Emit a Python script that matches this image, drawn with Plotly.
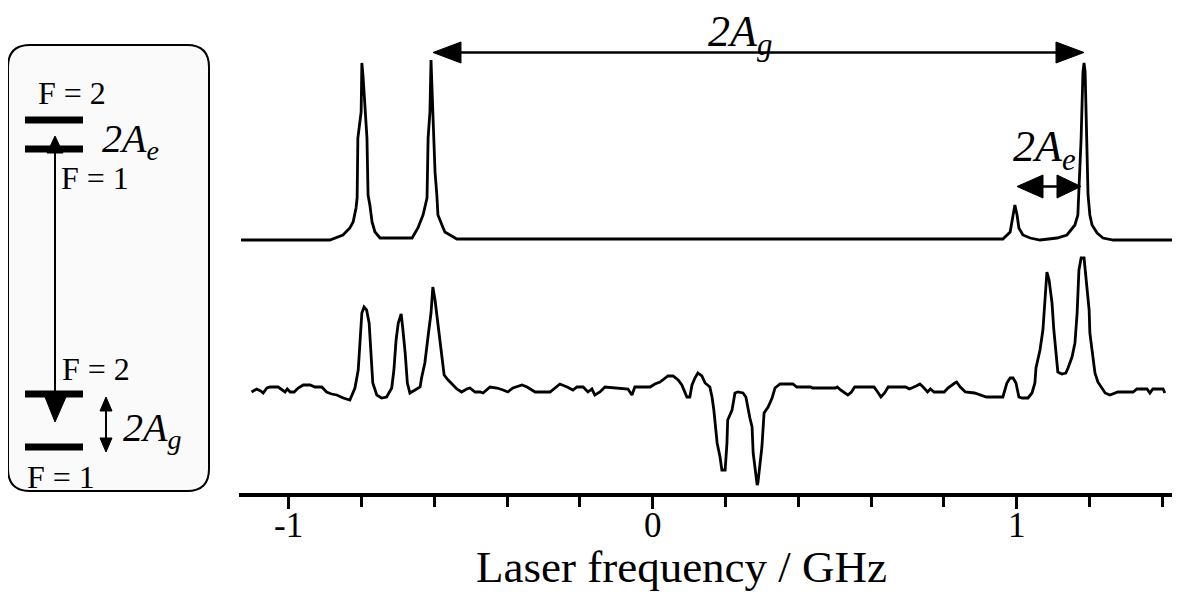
import plotly.graph_objects as go

# ---------------- data ----------------
# Upper trace: laser-induced fluorescence (a.u., relative to its baseline)
top_freq = [-1.131, -0.887, -0.851, -0.832, -0.823, -0.815, -0.812, -0.810, -0.801, -0.799,
            -0.796, -0.790, -0.785, -0.782, -0.777, -0.771, -0.763, -0.749, -0.661, -0.645,
            -0.631, -0.620, -0.617, -0.612, -0.609, -0.604, -0.598, -0.593, -0.590, -0.579,
            -0.571, -0.538, 0.962, 0.982, 0.990, 0.995, 1.001, 1.006, 1.017, 1.037,
            1.064, 1.111, 1.138, 1.160, 1.168, 1.171, 1.177, 1.182, 1.185, 1.188,
            1.193, 1.196, 1.201, 1.207, 1.221, 1.237, 1.265, 1.440]
top_signal = [0, 0, 5, 12, 18, 32, 42, 102, 128, 177,
              165, 128, 102, 45, 35, 18, 8, 2, 2, 12,
              25, 42, 102, 128, 180, 128, 68, 45, 25, 15,
              8, 1, 1, 8, 25, 35, 25, 12, 5, 2,
              0, 2, 5, 15, 25, 52, 102, 168, 177, 168,
              85, 45, 25, 15, 7, 2, 0, 0]

# Lower trace: second spectrum (a.u., relative to its baseline)
low_freq = [-1.102, -1.088, -1.077, -1.070, -1.060, -1.051, -1.029, -1.019, -1.010, -1.004,
            -0.996, -0.985, -0.974, -0.960, -0.941, -0.928, -0.909, -0.896, -0.882, -0.868,
            -0.850, -0.832, -0.818, -0.809, -0.804, -0.799, -0.793, -0.786, -0.779, -0.774,
            -0.769, -0.758, -0.745, -0.731, -0.717, -0.711, -0.705, -0.699, -0.691, -0.687,
            -0.680, -0.674, -0.667, -0.653, -0.639, -0.635, -0.626, -0.616, -0.609, -0.604,
            -0.598, -0.589, -0.580, -0.573, -0.562, -0.548, -0.538, -0.525, -0.511, -0.502,
            -0.488, -0.474, -0.466, -0.447, -0.428, -0.411, -0.398, -0.384, -0.359, -0.345,
            -0.332, -0.323, -0.282, -0.268, -0.255, -0.235, -0.219, -0.208, -0.191, -0.178,
            -0.167, -0.159, -0.145, -0.131, -0.098, -0.068, -0.057, -0.049, -0.007, 0.006,
            0.020, 0.028, 0.042, 0.056, 0.070, 0.080, 0.089, 0.094, 0.102, 0.108,
            0.116, 0.124, 0.135, 0.144, 0.157, 0.163, 0.168, 0.177, 0.185, 0.190,
            0.199, 0.204, 0.206, 0.218, 0.226, 0.234, 0.248, 0.256, 0.267, 0.273,
            0.276, 0.287, 0.289, 0.300, 0.306, 0.317, 0.328, 0.336, 0.350, 0.385,
            0.396, 0.434, 0.439, 0.502, 0.507, 0.516, 0.536, 0.546, 0.555, 0.589,
            0.608, 0.618, 0.627, 0.637, 0.647, 0.695, 0.705, 0.724, 0.734, 0.743,
            0.755, 0.763, 0.773, 0.801, 0.811, 0.830, 0.835, 0.845, 0.859, 0.884,
            0.917, 0.962, 0.968, 0.973, 0.982, 0.990, 0.998, 1.001, 1.006, 1.015,
            1.031, 1.042, 1.050, 1.053, 1.064, 1.072, 1.078, 1.083, 1.089, 1.097,
            1.102, 1.108, 1.113, 1.124, 1.135, 1.141, 1.152, 1.160, 1.166, 1.171,
            1.177, 1.185, 1.193, 1.199, 1.201, 1.210, 1.215, 1.223, 1.234, 1.243,
            1.256, 1.270, 1.278, 1.320, 1.330, 1.358, 1.366, 1.374, 1.402, 1.407]
low_signal = [-4, -1, -3, -5, 0, 1, 1, -2, -4, -1,
              -4, -4, 0, 3, 3, 1, 1, -4, -6, -7,
              -10, -12, 0, 18, 51, 75, 81, 78, 65, 35,
              5, -7, -10, -9, 0, 18, 48, 65, 74, 61,
              35, 5, -5, -2, 1, 10, 25, 55, 75, 101,
              88, 61, 31, 13, 8, 3, -1, -4, -1, 0,
              -4, -4, -5, 1, 0, -2, -4, 0, 3, 1,
              -2, -4, -4, 0, 4, 1, -2, 1, 1, -4,
              -1, -7, -4, 1, 0, -1, -7, 1, 1, 4,
              6, 8, 12, 12, 8, 3, -5, -9, -9, 3,
              10, 15, 12, 5, 1, -9, -22, -55, -69, -82,
              -82, -55, -32, -22, -5, -4, -5, -9, -30, -39,
              -65, -97, -95, -59, -25, -19, -10, 0, 4, 4,
              1, 1, 0, 0, 1, -2, -7, -4, 1, 1,
              1, -4, -9, -5, 1, 1, -1, 2, 4, 1,
              -4, -1, -4, -4, 0, 5, 6, 1, -4, -5,
              -9, -9, -2, 5, 10, 10, 5, -2, -9, -10,
              -10, -5, 5, 20, 38, 58, 88, 116, 108, 85,
              58, 38, 16, 14, 15, 20, 31, 45, 75, 118,
              130, 130, 101, 78, 55, 31, 15, 6, 0, -5,
              -7, -5, -4, -4, -1, -1, -5, -1, -1, -5]

tick_values = [-1, 0, 1]
tick_labels = ["-1", "0", "1"]
x_title = "Laser frequency / GHz"

# ---------------- layout helpers ----------------
OFF = 8                      # page body margin of the browser
W, H = 1186 - OFF, 596 - OFF
FONT = "Liberation Serif"
TOP_OFFSET = 253      # vertical offset of the upper trace (a.u.)
LOW_OFFSET = 105      # vertical offset of the lower trace (a.u.)


def P(px, py):
    return (px - OFF) / W, 1 - (py - OFF) / H


def pp(px, py):
    x, y = P(px, py)
    return f"{x:.5f},{y:.5f}"


def path(points):
    s = ""
    for i, (px, py) in enumerate(points):
        s += ("M " if i == 0 else " L ") + pp(px, py)
    return s + " Z"


fig = go.Figure()
fig.add_trace(go.Scatter(x=top_freq, y=[v + TOP_OFFSET for v in top_signal], mode="lines",
                         line=dict(color="black", width=2.8), hoverinfo="skip", showlegend=False))
fig.add_trace(go.Scatter(x=low_freq, y=[v + LOW_OFFSET for v in low_signal], mode="lines",
                         line=dict(color="black", width=2.8), hoverinfo="skip", showlegend=False))

shapes = []


def line(x0, y0, x1, y1, w):
    a, b = P(x0, y0)
    c, d = P(x1, y1)
    shapes.append(dict(type="line", xref="paper", yref="paper", x0=a, y0=b, x1=c, y1=d,
                       line=dict(color="black", width=w)))


def tri(points):
    shapes.append(dict(type="path", xref="paper", yref="paper", path=path(points),
                       fillcolor="black", line=dict(color="black", width=1)))


# left energy-level box (rounded rectangle)
bx0, by0, bx1, by1, r = 8, 45, 209, 491, 22
box_path = (f"M {pp(bx0 + r, by0)} L {pp(bx1 - r, by0)} Q {pp(bx1, by0)} {pp(bx1, by0 + r)} "
            f"L {pp(bx1, by1 - r)} Q {pp(bx1, by1)} {pp(bx1 - r, by1)} "
            f"L {pp(bx0 + r, by1)} Q {pp(bx0, by1)} {pp(bx0, by1 - r)} "
            f"L {pp(bx0, by0 + r)} Q {pp(bx0, by0)} {pp(bx0 + r, by0)} Z")
shapes.append(dict(type="path", xref="paper", yref="paper", path=box_path,
                   fillcolor="#fafafa", line=dict(color="black", width=2), layer="below"))

# energy levels
for ly in (120, 149, 394, 447):
    line(25, ly, 83, ly, 7)
# transition arrow
line(55, 152, 55, 400, 2)
tri([(55, 136), (47, 153), (63, 153)])
tri([(45, 397), (66, 397), (55, 422)])
# small ground splitting arrow
line(106, 408, 106, 440, 2)
tri([(106, 397), (100, 411), (112, 411)])
tri([(106, 452), (100, 438), (112, 438)])

# big 2A_g arrow in spectrum
line(458, 52.5, 1058, 52.5, 2.5)
tri([(433, 52.5), (461, 42), (461, 63)])
tri([(1084, 52.5), (1056, 42), (1056, 63)])
# 2A_e arrow
line(1040, 186.5, 1060, 186.5, 2.5)
tri([(1017, 186.5), (1043, 175), (1043, 198)])
tri([(1081, 186.5), (1057, 175), (1057, 198)])

annotations = []


def text(t, px, py, size, xanchor="center"):
    x, y = P(px, py)
    annotations.append(dict(text=t, x=x, y=y, xref="paper", yref="paper", showarrow=False,
                            xanchor=xanchor, yanchor="middle",
                            font=dict(family=FONT, size=size, color="black")))


text("F = 2", 72, 93, 32)
text("<i>2A<sub>e</sub></i>", 100, 141, 40, "left")
text("F = 1", 95, 178, 32)
text("F = 2", 96, 369, 32)
text("F = 1", 61, 477, 32)
text("<i>2A<sub>g</sub></i>", 121, 430, 40, "left")
text("<i>2A<sub>g</sub></i>", 706, 34, 44, "left")
text("<i>2A<sub>e</sub></i>", 1011, 150, 44, "left")
# axis title
text(x_title, 681, 567, 45)

x0_px, x1_px = 239, 1172
y_axis_px, y_top_px = 493, 20
zero_px, per_ghz = 652.7, 364.0
fig.update_layout(
    width=W, height=H,
    margin=dict(l=0, r=0, t=0, b=0),
    paper_bgcolor="white", plot_bgcolor="white",
    shapes=shapes, annotations=annotations,
    xaxis=dict(domain=[(x0_px - OFF) / W, (x1_px - OFF) / W],
               range=[(x0_px - zero_px) / per_ghz, (x1_px - zero_px) / per_ghz],
               showgrid=False, zeroline=False, showline=True, linecolor="black", linewidth=4,
               ticks="outside", ticklen=12, tickwidth=3, tickcolor="black",
               tickvals=tick_values, ticktext=tick_labels, ticklabelstandoff=-14,
               tickfont=dict(family=FONT, size=35, color="black"),
               minor=dict(dtick=0.2, tick0=0, ticks="outside", ticklen=10, tickwidth=3,
                          tickcolor="black", showgrid=False)),
    yaxis=dict(domain=[1 - (y_axis_px - OFF) / H, 1 - (y_top_px - OFF) / H],
               range=[0, y_axis_px - y_top_px], visible=False, fixedrange=True),
    showlegend=False,
)

fig.write_html("out.html")
